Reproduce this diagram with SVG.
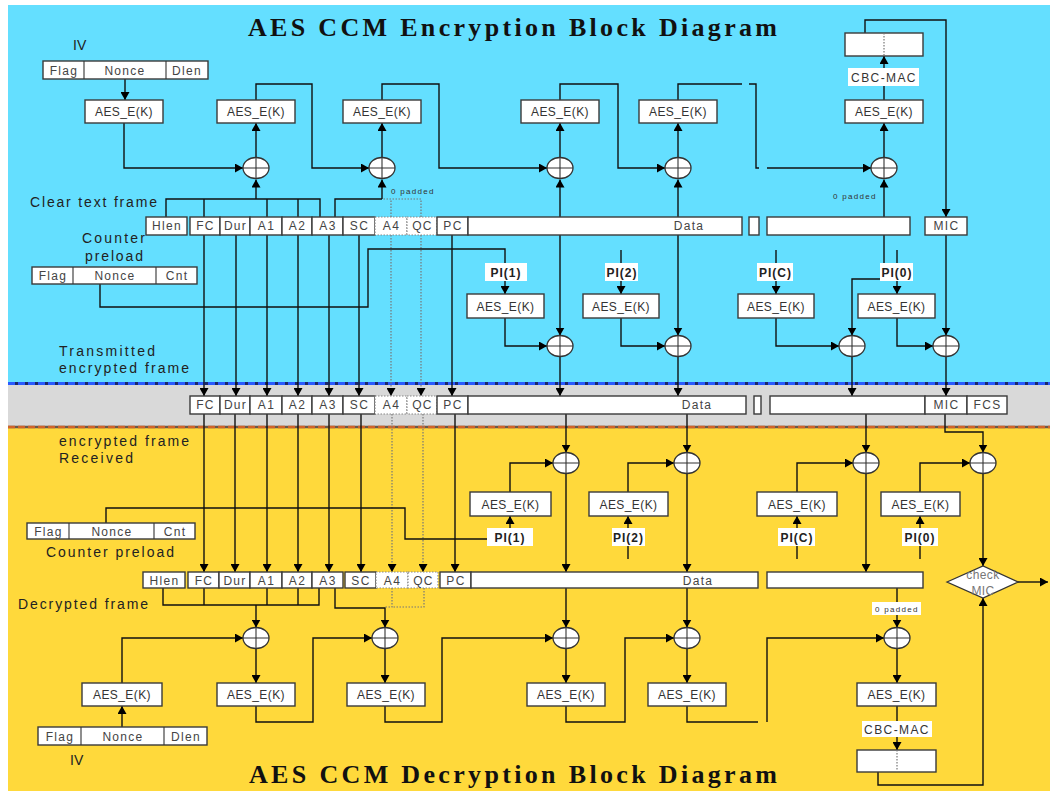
<svg xmlns="http://www.w3.org/2000/svg" width="1050" height="791" viewBox="0 0 1050 791">
<style>
.bx{fill:#fff;stroke:#3a3a3a;stroke-width:1.4}
.dbx{fill:#fff;stroke:#888;stroke-width:1.2;stroke-dasharray:1.5 1.5}
.ln{fill:none;stroke:#111;stroke-width:1.4}
.dl{fill:none;stroke:#777;stroke-width:1.2;stroke-dasharray:1.5 1.5}
.x{fill:#fff;stroke:#333;stroke-width:1.3}
.xl{fill:none;stroke:#333;stroke-width:1.1}
.t{font-family:"Liberation Sans",Arial,sans-serif;font-size:12px;fill:#333;text-anchor:middle;letter-spacing:0.4px}
.f{font-family:"Liberation Sans",Arial,sans-serif;font-size:12px;fill:#444;text-anchor:middle;letter-spacing:1.3px}
.lb{font-family:"Liberation Sans",Arial,sans-serif;font-size:14px;fill:#222}
.pi{font-family:"Liberation Sans",Arial,sans-serif;font-size:12px;font-weight:bold;fill:#222;text-anchor:middle;letter-spacing:1px}
.cm{font-family:"Liberation Sans",Arial,sans-serif;font-size:12px;fill:#333;text-anchor:middle;letter-spacing:1.4px}
.sm{font-family:"Liberation Sans",Arial,sans-serif;font-size:8px;fill:#333;letter-spacing:1.3px}
.ti{font-family:"Liberation Serif","Times New Roman",serif;font-size:26px;font-weight:bold;fill:#111}
.wb{fill:#fff}
.am{marker-end:url(#a)}
</style>
<defs>
<marker id="a" viewBox="0 0 8 9" refX="8" refY="4.5" markerWidth="8" markerHeight="9" markerUnits="userSpaceOnUse" orient="auto"><path d="M0,0 L8,4.5 L0,9 z" fill="#000"/></marker>
</defs>

<g id="background">
<rect width="1050" height="791" fill="#fff"/>
<rect x="8" y="5" width="1042" height="379" fill="#64DFFF"/>
<rect x="8" y="384" width="1042" height="43" fill="#D9D9D9"/>
<rect x="8" y="427" width="1042" height="364" fill="#FFD93B"/>
<line x1="8" y1="383.5" x2="1050" y2="383.5" stroke="#1b2a6b" stroke-width="3"/>
<line x1="8" y1="383.5" x2="1050" y2="383.5" stroke="#2a5bff" stroke-width="3" stroke-dasharray="7 3"/>
<line x1="8" y1="427" x2="1050" y2="427" stroke="#6b5a4a" stroke-width="2.5"/>
<line x1="8" y1="427" x2="1050" y2="427" stroke="#d0642a" stroke-width="2.5" stroke-dasharray="7 3"/>
</g>

<g id="titles">
<text class="ti" x="248" y="36" textLength="529" lengthAdjust="spacing">AES CCM Encryption Block Diagram</text>
<text class="ti" x="249" y="783" textLength="528" lengthAdjust="spacing">AES CCM Decryption Block Diagram</text>
</g>

<g id="labels">
<text class="lb" x="73" y="50">IV</text>
<text class="lb" x="30" y="207" textLength="127" lengthAdjust="spacing">Clear text frame</text>
<text class="lb" x="82" y="243" textLength="63" lengthAdjust="spacing">Counter</text>
<text class="lb" x="85" y="261" textLength="58" lengthAdjust="spacing">preload</text>
<text class="lb" x="59" y="356" textLength="96" lengthAdjust="spacing">Transmitted</text>
<text class="lb" x="59" y="373" textLength="130" lengthAdjust="spacing">encrypted frame</text>
<text class="lb" x="59" y="446" textLength="130" lengthAdjust="spacing">encrypted frame</text>
<text class="lb" x="59" y="463" textLength="74" lengthAdjust="spacing">Received</text>
<text class="lb" x="46" y="557" textLength="128" lengthAdjust="spacing">Counter preload</text>
<text class="lb" x="18" y="609" textLength="130" lengthAdjust="spacing">Decrypted frame</text>
<text class="lb" x="70" y="765">IV</text>
<text class="sm" x="391" y="194">0 padded</text>
<text class="sm" x="833" y="199">0 padded</text>
</g>

<g id="connectors">
<!-- upper encryption chain -->
<path class="ln am" d="M125,79V100"/>
<path class="ln am" d="M124,123V168H243"/>
<path class="ln am" d="M256,157.5V123"/>
<path class="ln am" d="M256,100V84H312V168H369"/>
<path class="ln am" d="M382,157.5V123"/>
<path class="ln am" d="M382,100V84H439V168H547"/>
<path class="ln am" d="M560,157.5V123"/>
<path class="ln am" d="M560,100V84H618V168H665"/>
<path class="ln am" d="M678,157.5V123"/>
<path class="ln" d="M678,100V84H742"/>
<path class="ln" d="M749,84H756V168H759"/>
<path class="ln am" d="M767,168H871"/>
<path class="ln am" d="M884,157.5V123"/>
<path class="ln am" d="M884,100V56"/>
<path class="ln am" d="M865,33V20H946V217"/>
<!-- brackets above clear text frame -->
<path class="ln" d="M166,217V199H320V217M204,199V217M267,199V217M298,199V217"/>
<path class="ln am" d="M256,199V179.5"/>
<path class="ln" d="M335,217V199H382"/>
<path class="ln am" d="M382,199V179.5"/>
<path class="dl" d="M391,217V199H382M421,217V199H391"/>
<path class="ln am" d="M560,217V179.5"/>
<path class="ln am" d="M678,217V179.5"/>
<path class="ln am" d="M884,217V179.5"/>
<!-- clear text frame to transmitted frame -->
<path class="ln am" d="M204,235V396"/>
<path class="ln am" d="M236,235V396"/>
<path class="ln am" d="M267,235V396"/>
<path class="ln am" d="M298,235V396"/>
<path class="ln am" d="M329,235V396"/>
<path class="ln am" d="M359,235V396"/>
<path class="dl am" d="M391,235V396"/>
<path class="dl am" d="M421,235V396"/>
<path class="ln am" d="M452,235V396"/>
<path class="ln am" d="M560,235V335.5"/>
<path class="ln am" d="M560,356.5V396"/>
<path class="ln am" d="M678,235V335.5"/>
<path class="ln am" d="M678,356.5V396"/>
<path class="ln am" d="M884,235V279H852V335.5"/>
<path class="ln am" d="M852,356.5V396"/>
<path class="ln am" d="M946,235V335.5"/>
<path class="ln am" d="M946,356.5V396"/>
<!-- counter preload (encryption) -->
<path class="ln" d="M100,284V307H368V249H505V263"/>
<path class="ln" d="M621,250V263M776,250V263M897,250V263"/>
<path class="ln am" d="M505,281V294"/>
<path class="ln am" d="M621,281V294"/>
<path class="ln am" d="M776,281V294"/>
<path class="ln am" d="M897,281V294"/>
<path class="ln am" d="M505,318V346H547"/>
<path class="ln am" d="M621,318V346H665"/>
<path class="ln am" d="M776,318V346H839"/>
<path class="ln am" d="M897,318V346H933"/>
<!-- received frame to decrypted frame -->
<path class="ln am" d="M204,414V572"/>
<path class="ln am" d="M235,414V572"/>
<path class="ln am" d="M267,414V572"/>
<path class="ln am" d="M298,414V572"/>
<path class="ln am" d="M329,414V572"/>
<path class="ln am" d="M361,414V572"/>
<path class="dl am" d="M392,414V572"/>
<path class="dl am" d="M423,414V572"/>
<path class="ln am" d="M455,414V572"/>
<path class="ln am" d="M566,414V452.5"/>
<path class="ln am" d="M566,473.5V572"/>
<path class="ln am" d="M687,414V452.5"/>
<path class="ln am" d="M687,473.5V572"/>
<path class="ln am" d="M866,414V452.5"/>
<path class="ln am" d="M866,473.5V572"/>
<path class="ln am" d="M945,414V432H983V452.5"/>
<path class="ln am" d="M983,473.5V566"/>
<path class="ln am" d="M510,492V463H553"/>
<path class="ln am" d="M628,492V463H674"/>
<path class="ln am" d="M797,492V463H853"/>
<path class="ln am" d="M920,492V463H970"/>
<path class="ln am" d="M510,528V516"/>
<path class="ln am" d="M628,528V516"/>
<path class="ln am" d="M797,528V516"/>
<path class="ln am" d="M920,528V516"/>
<path class="ln" d="M628,546V559M797,546V559M920,546V559"/>
<path class="ln" d="M106,523V508H405V539H487"/>
<!-- brackets below decrypted frame -->
<path class="ln" d="M163,588V605H319V588M204,588V605M267,588V605M298,588V605"/>
<path class="ln am" d="M256,605V627.5"/>
<path class="ln am" d="M335,588V608H385V627.5"/>
<path class="dl" d="M392,588V607H385M424,588V607H392"/>
<path class="ln am" d="M566,588V627.5"/>
<path class="ln am" d="M687,588V627.5"/>
<path class="ln am" d="M897,588V627.5"/>
<!-- lower decryption chain -->
<path class="ln am" d="M122,727V706"/>
<path class="ln am" d="M122,683V638H243"/>
<path class="ln am" d="M256,648.5V683"/>
<path class="ln am" d="M256,706V722H313V638H372"/>
<path class="ln am" d="M385,648.5V683"/>
<path class="ln am" d="M385,706V722H442V638H553"/>
<path class="ln am" d="M566,648.5V683"/>
<path class="ln am" d="M566,706V722H625V638H674"/>
<path class="ln am" d="M687,648.5V683"/>
<path class="ln" d="M687,706V722H758"/>
<path class="ln am" d="M767,722V638H884"/>
<path class="ln am" d="M897,648.5V683"/>
<path class="ln am" d="M897,706V750"/>
<path class="ln am" d="M878,772V785H983V598"/>
<path class="ln am" d="M1018,582H1048"/>
</g>

<g id="iv-top">
<rect class="bx" x="43" y="61" width="165" height="18"/>
<path class="xl" d="M84,61V79M166,61V79"/>
<text class="f" x="64" y="74.5">Flag</text><text class="f" x="125" y="74.5">Nonce</text><text class="f" x="187" y="74.5">Dlen</text>
</g>
<g id="enc-aes1"><rect class="bx" x="85" y="100" width="78" height="23"/><text class="t" x="124" y="116">AES_E(K)</text></g>
<g id="enc-aes2"><rect class="bx" x="217" y="100" width="78" height="23"/><text class="t" x="256" y="116">AES_E(K)</text></g>
<g id="enc-aes3"><rect class="bx" x="343" y="100" width="78" height="23"/><text class="t" x="382" y="116">AES_E(K)</text></g>
<g id="enc-aes4"><rect class="bx" x="521" y="100" width="78" height="23"/><text class="t" x="560" y="116">AES_E(K)</text></g>
<g id="enc-aes5"><rect class="bx" x="639" y="100" width="78" height="23"/><text class="t" x="678" y="116">AES_E(K)</text></g>
<g id="enc-aes6"><rect class="bx" x="845" y="100" width="78" height="23"/><text class="t" x="884" y="116">AES_E(K)</text></g>
<g id="enc-mac"><rect class="bx" x="845" y="33" width="78" height="23"/><path class="dl" d="M884,33V56"/></g>
<g id="enc-cbc"><rect class="wb" x="848" y="68" width="71" height="18"/><text class="cm" x="884" y="81.5">CBC-MAC</text></g>

<g id="enc-xor1"><ellipse class="x" cx="256" cy="168" rx="13" ry="10.5"/><path class="xl" d="M243,168H269M256,157.5V178.5"/></g>
<g id="enc-xor2"><ellipse class="x" cx="382" cy="168" rx="13" ry="10.5"/><path class="xl" d="M369,168H395M382,157.5V178.5"/></g>
<g id="enc-xor3"><ellipse class="x" cx="560" cy="168" rx="13" ry="10.5"/><path class="xl" d="M547,168H573M560,157.5V178.5"/></g>
<g id="enc-xor4"><ellipse class="x" cx="678" cy="168" rx="13" ry="10.5"/><path class="xl" d="M665,168H691M678,157.5V178.5"/></g>
<g id="enc-xor5"><ellipse class="x" cx="884" cy="168" rx="13" ry="10.5"/><path class="xl" d="M871,168H897M884,157.5V178.5"/></g>

<g id="clear-frame">
<rect class="bx" x="146" y="217" width="41" height="18"/><text class="f" x="167" y="230">Hlen</text>
<rect class="bx" x="190" y="217" width="30" height="18"/><text class="f" x="205.5" y="230">FC</text>
<rect class="bx" x="220" y="217" width="30" height="18"/><text class="f" x="235.5" y="230">Dur</text>
<rect class="bx" x="250" y="217" width="32" height="18"/><text class="f" x="266.5" y="230">A1</text>
<rect class="bx" x="282" y="217" width="30" height="18"/><text class="f" x="297.5" y="230">A2</text>
<rect class="bx" x="312" y="217" width="31" height="18"/><text class="f" x="328" y="230">A3</text>
<rect class="bx" x="343" y="217" width="32" height="18"/><text class="f" x="359.5" y="230">SC</text>
<rect class="dbx" x="375" y="217" width="32" height="18"/><text class="f" x="391.5" y="230">A4</text>
<rect class="dbx" x="407" y="217" width="30" height="18"/><text class="f" x="422.5" y="230">QC</text>
<rect class="bx" x="437" y="217" width="31" height="18"/><text class="f" x="453" y="230">PC</text>
<rect class="bx" x="468" y="217" width="274" height="18"/><text class="f" x="689" y="230">Data</text>
<rect class="bx" x="749" y="217" width="10" height="18"/>
<rect class="bx" x="767" y="217" width="143" height="18"/>
<rect class="bx" x="925" y="217" width="42" height="18"/><text class="f" x="946.5" y="230">MIC</text>
</g>

<g id="counter-top">
<rect class="bx" x="32" y="267" width="165" height="17"/>
<path class="xl" d="M73,267V284M156,267V284"/>
<text class="f" x="53" y="280">Flag</text><text class="f" x="115" y="280">Nonce</text><text class="f" x="177" y="280">Cnt</text>
</g>

<g id="enc-pi1"><rect class="wb" x="485" y="263" width="42" height="18"/><text class="pi" x="506" y="276.5">PI(1)</text></g>
<g id="enc-pi2"><rect class="wb" x="605" y="263" width="33" height="18"/><text class="pi" x="622" y="276.5">PI(2)</text></g>
<g id="enc-pic"><rect class="wb" x="757" y="263" width="36" height="18"/><text class="pi" x="775.5" y="276.5">PI(C)</text></g>
<g id="enc-pi0"><rect class="wb" x="880" y="263" width="33" height="18"/><text class="pi" x="897" y="276.5">PI(0)</text></g>

<g id="enc-ctr1"><rect class="bx" x="467" y="294" width="77" height="24"/><text class="t" x="505.5" y="310.5">AES_E(K)</text></g>
<g id="enc-ctr2"><rect class="bx" x="583" y="294" width="76" height="24"/><text class="t" x="621" y="310.5">AES_E(K)</text></g>
<g id="enc-ctr3"><rect class="bx" x="738" y="294" width="76" height="24"/><text class="t" x="776" y="310.5">AES_E(K)</text></g>
<g id="enc-ctr4"><rect class="bx" x="858" y="294" width="77" height="24"/><text class="t" x="896.5" y="310.5">AES_E(K)</text></g>

<g id="enc-xor6"><ellipse class="x" cx="560" cy="346" rx="13" ry="10.5"/><path class="xl" d="M547,346H573M560,335.5V356.5"/></g>
<g id="enc-xor7"><ellipse class="x" cx="678" cy="346" rx="13" ry="10.5"/><path class="xl" d="M665,346H691M678,335.5V356.5"/></g>
<g id="enc-xor8"><ellipse class="x" cx="852" cy="346" rx="13" ry="10.5"/><path class="xl" d="M839,346H865M852,335.5V356.5"/></g>
<g id="enc-xor9"><ellipse class="x" cx="946" cy="346" rx="13" ry="10.5"/><path class="xl" d="M933,346H959M946,335.5V356.5"/></g>

<g id="tx-frame">
<rect class="bx" x="190" y="396" width="30" height="18"/><text class="f" x="205.5" y="409">FC</text>
<rect class="bx" x="220" y="396" width="30" height="18"/><text class="f" x="235.5" y="409">Dur</text>
<rect class="bx" x="250" y="396" width="32" height="18"/><text class="f" x="266.5" y="409">A1</text>
<rect class="bx" x="282" y="396" width="30" height="18"/><text class="f" x="297.5" y="409">A2</text>
<rect class="bx" x="312" y="396" width="31" height="18"/><text class="f" x="328" y="409">A3</text>
<rect class="bx" x="343" y="396" width="32" height="18"/><text class="f" x="359.5" y="409">SC</text>
<rect class="dbx" x="375" y="396" width="32" height="18"/><text class="f" x="391.5" y="409">A4</text>
<rect class="dbx" x="407" y="396" width="30" height="18"/><text class="f" x="422.5" y="409">QC</text>
<rect class="bx" x="437" y="396" width="31" height="18"/><text class="f" x="453" y="409">PC</text>
<rect class="bx" x="468" y="396" width="278" height="18"/><text class="f" x="697" y="409">Data</text>
<rect class="bx" x="754" y="396" width="7" height="18"/>
<rect class="bx" x="770" y="396" width="155" height="18"/>
<rect class="bx" x="925" y="396" width="42" height="18"/><text class="f" x="946.5" y="409">MIC</text>
<rect class="bx" x="967" y="396" width="40" height="18"/><text class="f" x="987.5" y="409">FCS</text>
</g>

<g id="dec-xor1"><ellipse class="x" cx="566" cy="463" rx="13" ry="10.5"/><path class="xl" d="M553,463H579M566,452.5V473.5"/></g>
<g id="dec-xor2"><ellipse class="x" cx="687" cy="463" rx="13" ry="10.5"/><path class="xl" d="M674,463H700M687,452.5V473.5"/></g>
<g id="dec-xor3"><ellipse class="x" cx="866" cy="463" rx="13" ry="10.5"/><path class="xl" d="M853,463H879M866,452.5V473.5"/></g>
<g id="dec-xor4"><ellipse class="x" cx="983" cy="463" rx="13" ry="10.5"/><path class="xl" d="M970,463H996M983,452.5V473.5"/></g>

<g id="dec-ctr1"><rect class="bx" x="470" y="492" width="81" height="24"/><text class="t" x="510.5" y="508.5">AES_E(K)</text></g>
<g id="dec-ctr2"><rect class="bx" x="589" y="492" width="79" height="24"/><text class="t" x="628.5" y="508.5">AES_E(K)</text></g>
<g id="dec-ctr3"><rect class="bx" x="757" y="492" width="80" height="24"/><text class="t" x="797" y="508.5">AES_E(K)</text></g>
<g id="dec-ctr4"><rect class="bx" x="881" y="492" width="79" height="24"/><text class="t" x="920.5" y="508.5">AES_E(K)</text></g>

<g id="dec-pi1"><rect class="wb" x="487" y="528" width="46" height="18"/><text class="pi" x="510" y="541.5">PI(1)</text></g>
<g id="dec-pi2"><rect class="wb" x="612" y="528" width="33" height="18"/><text class="pi" x="628.5" y="541.5">PI(2)</text></g>
<g id="dec-pic"><rect class="wb" x="778" y="528" width="37" height="18"/><text class="pi" x="797" y="541.5">PI(C)</text></g>
<g id="dec-pi0"><rect class="wb" x="902" y="528" width="36" height="18"/><text class="pi" x="920" y="541.5">PI(0)</text></g>

<g id="counter-bottom">
<rect class="bx" x="27" y="523" width="168" height="16"/>
<path class="xl" d="M69,523V539M154,523V539"/>
<text class="f" x="48.5" y="535.5">Flag</text><text class="f" x="112" y="535.5">Nonce</text><text class="f" x="175" y="535.5">Cnt</text>
</g>

<g id="check-mic">
<polygon points="947,582 983,566 1018,582 983,598" fill="#fff" stroke="#333" stroke-width="1.3"/>
<text class="t" x="983" y="579" fill="#777" style="fill:#777">check</text>
<text class="t" x="983" y="595" style="fill:#777">MIC</text>
</g>

<g id="dec-frame">
<rect class="bx" x="143" y="572" width="42" height="16"/><text class="f" x="164.5" y="584.5">Hlen</text>
<rect class="bx" x="188" y="572" width="31" height="16"/><text class="f" x="204" y="584.5">FC</text>
<rect class="bx" x="219" y="572" width="31" height="16"/><text class="f" x="235" y="584.5">Dur</text>
<rect class="bx" x="250" y="572" width="32" height="16"/><text class="f" x="266.5" y="584.5">A1</text>
<rect class="bx" x="282" y="572" width="30" height="16"/><text class="f" x="297.5" y="584.5">A2</text>
<rect class="bx" x="312" y="572" width="31" height="16"/><text class="f" x="328" y="584.5">A3</text>
<rect class="bx" x="345" y="572" width="31" height="16"/><text class="f" x="361" y="584.5">SC</text>
<rect class="dbx" x="376" y="572" width="32" height="16"/><text class="f" x="392.5" y="584.5">A4</text>
<rect class="dbx" x="408" y="572" width="30" height="16"/><text class="f" x="423.5" y="584.5">QC</text>
<rect class="bx" x="440" y="572" width="31" height="16"/><text class="f" x="456" y="584.5">PC</text>
<rect class="bx" x="471" y="572" width="287" height="16"/><text class="f" x="698" y="584.5">Data</text>
<rect class="bx" x="767" y="572" width="156" height="16"/>
</g>

<g id="dec-pad"><rect class="wb" x="872" y="602" width="49" height="13"/><text class="sm" x="875" y="612">0 padded</text></g>

<g id="mac-xor1"><ellipse class="x" cx="256" cy="638" rx="13" ry="10.5"/><path class="xl" d="M243,638H269M256,627.5V648.5"/></g>
<g id="mac-xor2"><ellipse class="x" cx="385" cy="638" rx="13" ry="10.5"/><path class="xl" d="M372,638H398M385,627.5V648.5"/></g>
<g id="mac-xor3"><ellipse class="x" cx="566" cy="638" rx="13" ry="10.5"/><path class="xl" d="M553,638H579M566,627.5V648.5"/></g>
<g id="mac-xor4"><ellipse class="x" cx="687" cy="638" rx="13" ry="10.5"/><path class="xl" d="M674,638H700M687,627.5V648.5"/></g>
<g id="mac-xor5"><ellipse class="x" cx="897" cy="638" rx="13" ry="10.5"/><path class="xl" d="M884,638H910M897,627.5V648.5"/></g>

<g id="mac-aes0"><rect class="bx" x="82" y="683" width="80" height="23"/><text class="t" x="122" y="699">AES_E(K)</text></g>
<g id="mac-aes1"><rect class="bx" x="217" y="683" width="78" height="23"/><text class="t" x="256" y="699">AES_E(K)</text></g>
<g id="mac-aes2"><rect class="bx" x="347" y="683" width="78" height="23"/><text class="t" x="386" y="699">AES_E(K)</text></g>
<g id="mac-aes3"><rect class="bx" x="527" y="683" width="78" height="23"/><text class="t" x="566" y="699">AES_E(K)</text></g>
<g id="mac-aes4"><rect class="bx" x="648" y="683" width="78" height="23"/><text class="t" x="687" y="699">AES_E(K)</text></g>
<g id="mac-aes5"><rect class="bx" x="857" y="683" width="79" height="23"/><text class="t" x="896.5" y="699">AES_E(K)</text></g>

<g id="dec-cbc"><rect class="wb" x="862" y="721" width="70" height="16"/><text class="cm" x="897" y="733.5">CBC-MAC</text></g>
<g id="dec-mac"><rect class="bx" x="857" y="750" width="79" height="22"/><path class="dl" d="M897,750V772"/></g>

<g id="iv-bottom">
<rect class="bx" x="38" y="727" width="169" height="18"/>
<path class="xl" d="M81,727V745M164,727V745"/>
<text class="f" x="60" y="740.5">Flag</text><text class="f" x="123" y="740.5">Nonce</text><text class="f" x="186" y="740.5">Dlen</text>
</g>
</svg>
